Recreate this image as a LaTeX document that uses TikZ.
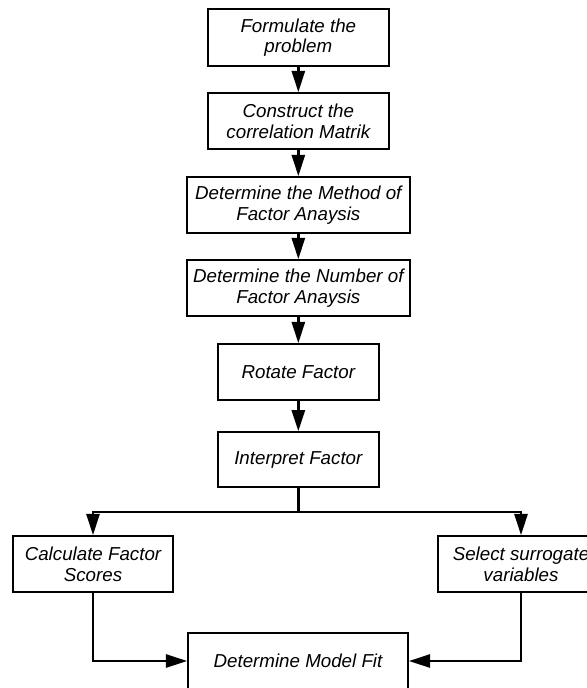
\documentclass[tikz,border=0pt]{standalone}
\usepackage{fontspec}
\setmainfont{Liberation Sans}
\usepackage{tikz}
\usetikzlibrary{arrows.meta,positioning}

\begin{document}
\begin{tikzpicture}[
    stepbox/.style={draw, line width=1.4pt, inner sep=0pt, minimum height=1.68cm,
        align=center, font=\itshape\fontsize{16}{17.9}\selectfont},
    flow/.style={line width=2.5pt, -{Triangle[width=0.39cm,length=0.64cm]}},
    plain/.style={line width=2.5pt}]
    \useasboundingbox (0,0) rectangle (17.61,-20.64);
    %the main steps
    \node[stepbox, minimum width=5.43cm, minimum height=1.71cm] (formulate) at (8.95,-1.13) {Formulate the\\problem};
    \node[stepbox, minimum width=5.43cm] (construct) at (8.95,-3.63) {Construct the\\correlation Matrik};
    \node[stepbox, minimum width=6.69cm] (method) at (8.95,-6.15) {Determine the Method of\\Factor Anaysis};
    \node[stepbox, minimum width=6.69cm] (number) at (8.95,-8.64) {Determine the Number of\\Factor Anaysis};
    \node[stepbox, minimum width=4.83cm] (rotate) at (8.95,-11.16) {Rotate Factor};
    \node[stepbox, minimum width=4.83cm, minimum height=1.65cm] (interpret) at (8.95,-13.79) {Interpret Factor};
    %the two branches
    \node[stepbox, minimum width=4.8cm] (scores) at (2.79,-16.92) {Calculate Factor\\Scores};
    \node[stepbox, minimum width=4.98cm] (surrogate) at (15.63,-16.92) {Select surrogate\\variables};
    \node[stepbox, minimum width=6.6cm] (modelfit) at (8.94,-19.83) {Determine Model Fit};
    \coordinate (split) at (8.95,-15.36);
%the arrows
    \draw[flow] (formulate) -- (construct);
    \draw[flow] (construct) -- (method);
    \draw[flow] (method) -- (number);
    \draw[flow] (number) -- (rotate);
    \draw[flow] (rotate) -- (interpret);
    \draw[plain] (interpret) -- (split);
    \draw[flow] (split) -| (scores.north);
    \draw[flow] (split) -| (surrogate.north);
    \draw[flow] (scores) |- (modelfit);
    \draw[flow] (surrogate) |- (modelfit);
\end{tikzpicture}
\end{document}
